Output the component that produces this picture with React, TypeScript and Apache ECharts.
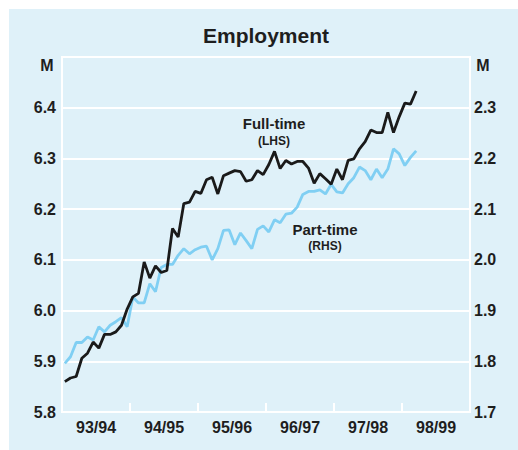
import React, { useEffect, useRef } from "react";
import * as echarts from "echarts";

const yearLabels = ["93/94", "94/95", "95/96", "96/97", "97/98", "98/99"];

// Monthly, July 1993 to September 1998
const fullTime = [
  5.86, 5.867, 5.87, 5.906, 5.916, 5.938, 5.926, 5.953, 5.953, 5.958, 5.971, 6.003,
  6.027, 6.034, 6.096, 6.064, 6.088, 6.075, 6.079, 6.162, 6.145, 6.211, 6.214, 6.235,
  6.231, 6.258, 6.263, 6.23, 6.266, 6.271, 6.276, 6.274, 6.255, 6.258, 6.276, 6.268,
  6.288, 6.314, 6.28, 6.296, 6.289, 6.294, 6.294, 6.281, 6.251, 6.27, 6.26, 6.249,
  6.279, 6.258, 6.296, 6.299, 6.319, 6.333, 6.356, 6.351, 6.351, 6.391, 6.351, 6.382,
  6.409, 6.407, 6.433,
];

const partTime = [
  1.796, 1.809, 1.837, 1.837, 1.848, 1.842, 1.868, 1.858, 1.871, 1.878, 1.886, 1.868,
  1.927, 1.915, 1.915, 1.953, 1.937, 1.985, 1.991, 1.991, 2.009, 2.022, 2.012, 2.02,
  2.025, 2.027, 2.0, 2.022, 2.058, 2.059, 2.03, 2.053, 2.038, 2.022, 2.06, 2.067,
  2.055, 2.079, 2.073, 2.09, 2.092, 2.104, 2.129, 2.135, 2.135, 2.138, 2.13, 2.149,
  2.134, 2.132, 2.15, 2.162, 2.183, 2.176, 2.158, 2.179, 2.162, 2.179, 2.219, 2.209,
  2.186, 2.202, 2.215,
];

const FONT = "'Liberation Sans', Arial, sans-serif";
const TEXT = "#1e1e1e";

export default function App() {
  const ref = useRef<HTMLDivElement>(null);
  useEffect(() => {
    if (!ref.current) return;
    const chart = echarts.init(ref.current, null, { renderer: "svg" });
    const ftData = fullTime.map((v, i) => [i + 0.5, v]);
    const ptData = partTime.map((v, i) => [i + 0.5, v]);
    const labelStyle = { color: TEXT, fontFamily: FONT, fontWeight: "bold" as const, fontSize: 16 };
    chart.setOption({
      animation: false,
      backgroundColor: "#ffffff",
      textStyle: { fontFamily: FONT },
      graphic: [
        { type: "rect", z: -10, silent: true, shape: { x: 9, y: 9, width: 509, height: 441 }, style: { fill: "#dff1f9" } },
        { type: "text", x: 266, y: 35, style: { text: "Employment", fill: TEXT, font: `bold 21px ${FONT}`, align: "center", verticalAlign: "middle" } },
        { type: "text", x: 47, y: 65, style: { text: "M", fill: TEXT, font: `bold 16px ${FONT}`, align: "center", verticalAlign: "middle" } },
        { type: "text", x: 483, y: 65, style: { text: "M", fill: TEXT, font: `bold 16px ${FONT}`, align: "center", verticalAlign: "middle" } },
        { type: "text", x: 274, y: 123, style: { text: "Full-time", fill: TEXT, font: `bold 15px ${FONT}`, align: "center", verticalAlign: "middle" } },
        { type: "text", x: 274, y: 141, style: { text: "(LHS)", fill: TEXT, font: `bold 12px ${FONT}`, align: "center", verticalAlign: "middle" } },
        { type: "text", x: 325, y: 229, style: { text: "Part-time", fill: TEXT, font: `bold 15px ${FONT}`, align: "center", verticalAlign: "middle" } },
        { type: "text", x: 325, y: 246, style: { text: "(RHS)", fill: TEXT, font: `bold 12px ${FONT}`, align: "center", verticalAlign: "middle" } },
      ],
      grid: {
        left: 62, right: 48, top: 57, bottom: 38,
        show: true, backgroundColor: "transparent", borderColor: "#ffffff", borderWidth: 2,
      },
      xAxis: [
        {
          type: "category",
          data: yearLabels,
          boundaryGap: true,
          axisLine: { show: true, lineStyle: { color: "#ffffff", width: 2 } },
          axisTick: { show: true, inside: true, length: 9, alignWithLabel: false, lineStyle: { color: "#ffffff", width: 2 } },
          axisLabel: { ...labelStyle, margin: 7 },
          splitLine: { show: false },
        },
        { type: "value", min: 0, max: 72, show: false, splitLine: { show: false } },
      ],
      yAxis: [
        {
          type: "value", min: 5.8, max: 6.5, interval: 0.1, position: "left",
          axisLine: { show: true, lineStyle: { color: "#ffffff", width: 2 } },
          axisTick: { show: false },
          axisLabel: { ...labelStyle, margin: 6, formatter: (v: number) => (v > 6.45 ? "" : v.toFixed(1)) },
          splitLine: { show: true, lineStyle: { color: "#ffffff", width: 2 } },
        },
        {
          type: "value", min: 1.7, max: 2.4, interval: 0.1, position: "right",
          axisLine: { show: true, lineStyle: { color: "#ffffff", width: 2 } },
          axisTick: { show: false },
          axisLabel: { ...labelStyle, margin: 4, formatter: (v: number) => (v > 2.35 ? "" : v.toFixed(1)) },
          splitLine: { show: false },
        },
      ],
      series: [
        {
          name: "Part-time", type: "line", xAxisIndex: 1, yAxisIndex: 1, data: ptData,
          showSymbol: false, lineStyle: { color: "#80cff3", width: 2.8 }, z: 3,
        },
        {
          name: "Full-time", type: "line", xAxisIndex: 1, yAxisIndex: 0, data: ftData,
          showSymbol: false, lineStyle: { color: "#1a1a1a", width: 2.8 }, z: 4,
        },
      ],
    });
    return () => chart.dispose();
  }, []);
  return (
    <div style={{ position: "fixed", left: 0, top: 0, width: 518, height: 450, background: "#fff" }}>
      <div ref={ref} style={{ width: 518, height: 450 }} />
    </div>
  );
}
